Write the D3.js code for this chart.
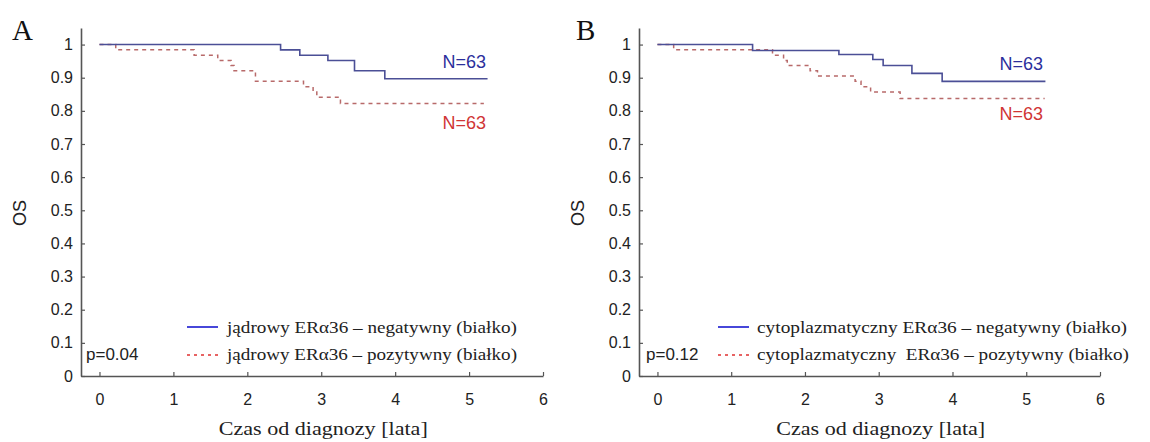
<!DOCTYPE html>
<html>
<head>
<meta charset="utf-8">
<script src="https://cdn.jsdelivr.net/npm/d3@7"></script>
<style>
  html, body { margin: 0; padding: 0; background: #fff; }
  svg { display: block; }
</style>
</head>
<body>
<svg id="chart" width="1150" height="442"></svg>
<script>
// ---- data ----
const panelLetters = ["A", "B"];
const xTicks = [0, 1, 2, 3, 4, 5, 6];
const xTickLabels = ["0", "1", "2", "3", "4", "5", "6"];
const yTicks = [0, 0.1, 0.2, 0.3, 0.4, 0.5, 0.6, 0.7, 0.8, 0.9, 1];
const yTickLabels = ["0", "0.1", "0.2", "0.3", "0.4", "0.5", "0.6", "0.7", "0.8", "0.9", "1"];

// Panel A: jądrowy ERα36  [time (years), survival]
const aNegTimes = [0, 2.45, 2.71, 3.09, 3.45, 3.86, 5.25];
const aNegSurv  = [1, 0.984, 0.968, 0.952, 0.921, 0.897, 0.897];
const aPosTimes = [0, 0.22, 1.28, 1.60, 1.78, 1.82, 2.11, 2.76, 2.89, 2.94, 3.26, 5.20];
const aPosSurv  = [1, 0.984, 0.968, 0.952, 0.937, 0.921, 0.889, 0.873, 0.857, 0.841, 0.822, 0.822];

// Panel B: cytoplazmatyczny ERα36
const bNegTimes = [0, 1.29, 2.46, 2.92, 3.06, 3.45, 3.86, 5.26];
const bNegSurv  = [1, 0.982, 0.970, 0.955, 0.937, 0.913, 0.889, 0.889];
const bPosTimes = [0, 0.22, 1.56, 1.71, 1.76, 2.07, 2.17, 2.68, 2.76, 2.89, 3.29, 5.25];
const bPosSurv  = [1, 0.984, 0.968, 0.952, 0.937, 0.921, 0.905, 0.889, 0.873, 0.857, 0.837, 0.837];

const nLabels = ["N=63", "N=63"];
const pValues = ["p=0.04", "p=0.12"];
const legendNeg = ["jądrowy ERα36 – negatywny (białko)", "cytoplazmatyczny ERα36 – negatywny (białko)"];
const legendPos = ["jądrowy ERα36 – pozytywny (białko)", "cytoplazmatyczny\u00A0 ERα36 – pozytywny (białko)"];
const xTitle = "Czas od diagnozy [lata]";
const yTitle = "OS";

// ---- layout ----
const svg = d3.select("#chart");
const SANS = "'Liberation Sans', Arial, sans-serif";
const SERIF = "'Liberation Serif', 'Times New Roman', serif";
const axisColor = "#555";

const panels = [
  { x0: 81, x1: 543, neg: [aNegTimes, aNegSurv], pos: [aPosTimes, aPosSurv],
    letterX: 12, yTitleX: 20, nNegY: 68, nPosY: 129, nX: 486,
    legLineX: 187, legTextX: 227, legTextLen1: 290, legTextLen2: 290, pX: 86 },
  { x0: 639, x1: 1100, neg: [bNegTimes, bNegSurv], pos: [bPosTimes, bPosSurv],
    letterX: 576, yTitleX: 578, nNegY: 70, nPosY: 120, nX: 1043,
    legLineX: 718, legTextX: 757, legTextLen1: 370, legTextLen2: 372, pX: 646 }
];

const y = d3.scaleLinear().domain([0, 1.05]).range([376, 28]);

panels.forEach((p, i) => {
  const x = d3.scaleLinear().domain([-0.25, 6]).range([p.x0, p.x1]);
  const g = svg.append("g");

  // axes
  const yAxis = d3.axisLeft(y).tickValues(yTicks)
    .tickFormat((d, k) => yTickLabels[k])
    .tickSizeInner(-4).tickSizeOuter(0).tickPadding(8);
  const ga = g.append("g").attr("transform", `translate(${p.x0},0)`).call(yAxis);
  const xAxis = d3.axisBottom(x).tickValues(xTicks)
    .tickFormat((d, k) => xTickLabels[k])
    .tickSizeInner(-4).tickSizeOuter(0).tickPadding(18);
  const gx = g.append("g").attr("transform", `translate(0,376)`).call(xAxis);
  [ga, gx].forEach(a => {
    a.select(".domain").attr("stroke", axisColor).attr("stroke-width", 1.6);
    a.selectAll(".tick line").attr("stroke", axisColor).attr("stroke-width", 1.2);
    a.selectAll(".tick text").attr("fill", "#222").style("font-family", SANS).style("font-size", "16px");
  });

  // curves
  const line = d3.line().x(d => x(d[0])).y(d => y(d[1])).curve(d3.curveStepAfter);
  const negPts = p.neg[0].map((t, k) => [t, p.neg[1][k]]);
  const posPts = p.pos[0].map((t, k) => [t, p.pos[1][k]]);
  g.append("path").attr("d", line(posPts)).attr("fill", "none")
    .attr("stroke", "#b86a6a").attr("stroke-width", 1.5).attr("stroke-dasharray", "4,4");
  g.append("path").attr("d", line(negPts)).attr("fill", "none")
    .attr("stroke", "#4b4f96").attr("stroke-width", 1.6);

  // N labels
  g.append("text").attr("x", p.nX).attr("y", p.nNegY).attr("text-anchor", "end")
    .style("font-family", SANS).style("font-size", "18px").attr("fill", "#2b2f9c").text(nLabels[0]);
  g.append("text").attr("x", p.nX).attr("y", p.nPosY).attr("text-anchor", "end")
    .style("font-family", SANS).style("font-size", "18px").attr("fill", "#d03535").text(nLabels[1]);

  // legend
  g.append("line").attr("x1", p.legLineX).attr("x2", p.legLineX + 31).attr("y1", 327).attr("y2", 327)
    .attr("stroke", "#1818d0").attr("stroke-width", 1.6);
  g.append("line").attr("x1", p.legLineX).attr("x2", p.legLineX + 31).attr("y1", 355).attr("y2", 355)
    .attr("stroke", "#e03030").attr("stroke-width", 1.6).attr("stroke-dasharray", "3,4");
  g.append("text").attr("x", p.legTextX).attr("y", 333)
    .attr("textLength", p.legTextLen1).attr("lengthAdjust", "spacingAndGlyphs")
    .style("font-family", SERIF).style("font-size", "17px").attr("fill", "#222").text(legendNeg[i]);
  g.append("text").attr("x", p.legTextX).attr("y", 360)
    .attr("textLength", p.legTextLen2).attr("lengthAdjust", "spacingAndGlyphs")
    .style("font-family", SERIF).style("font-size", "17px").attr("fill", "#222").text(legendPos[i]);

  // p value
  g.append("text").attr("x", p.pX).attr("y", 360)
    .style("font-family", SANS).style("font-size", "17px").attr("fill", "#222").text(pValues[i]);

  // titles
  g.append("text").attr("x", (x(0) + x(6)) / 2 + 2).attr("y", 435).attr("text-anchor", "middle")
    .attr("textLength", 209).attr("lengthAdjust", "spacingAndGlyphs")
    .style("font-family", SERIF).style("font-size", "18px").attr("fill", "#222").text(xTitle);
  g.append("text").attr("transform", `translate(${p.yTitleX + 6},213) rotate(-90)`)
    .attr("text-anchor", "middle")
    .style("font-family", SANS).style("font-size", "18px").attr("fill", "#222").text(yTitle);

  // panel letter
  g.append("text").attr("x", p.letterX).attr("y", 40)
    .style("font-family", SERIF).style("font-size", "29px").attr("fill", "#111").text(panelLetters[i]);
});
</script>
</body>
</html>
